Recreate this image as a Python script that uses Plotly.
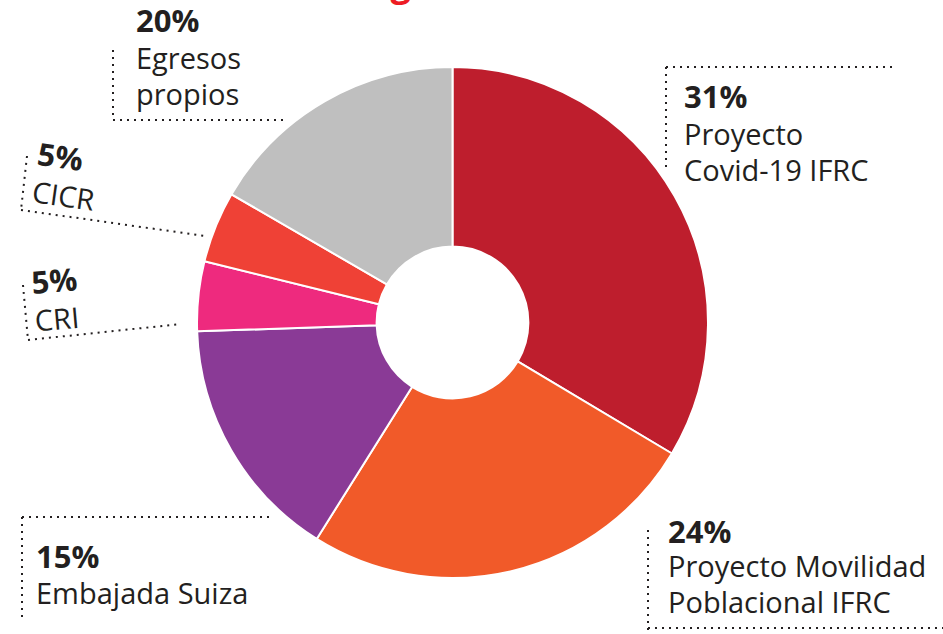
import plotly.graph_objects as go

W, H = 943, 634

# Data
categories = ["Proyecto Covid-19 IFRC", "Proyecto Movilidad Poblacional IFRC",
              "Embajada Suiza", "CRI", "CICR", "Egresos propios"]
values = [33.5, 25.3, 15.5, 4.4, 4.5, 16.6]
pct_labels = ["31%", "24%", "15%", "5%", "5%", "20%"]
name_lines = [["Proyecto", "Covid-19 IFRC"], ["Proyecto Movilidad", "Poblacional IFRC"],
              ["Embajada Suiza"], ["CRI"], ["CICR"], ["Egresos", "propios"]]
colors = ["#BE1E2D", "#F15A29", "#8A3A96", "#EE2A7E", "#EF4136", "#BFBFBF"]


def px(x):
    return x / W


def py(y):
    return 1 - y / H


cx, cy, r = 452.5, 322.5, 255.5

fig = go.Figure(go.Pie(
    labels=categories, values=values, sort=False, direction="clockwise", rotation=0,
    hole=0.297, textinfo="none", hoverinfo="label+percent",
    marker=dict(colors=colors, line=dict(color="white", width=2)),
    domain=dict(x=[px(cx - r), px(cx + r)], y=[py(cy + r), py(cy - r)]),
    showlegend=False,
))

FONT = "Open Sans"
TXT = "#231F20"
S_NAME, S_PCT = 29, 31

# straight labels: (left x, list of baselines)
straight = {
    0: (683, [108, 145, 181]),
    1: (667, [543, 577, 613]),
    2: (35, [568, 604]),
    5: (135, [32, 69, 105]),
}
# rotated labels: (center x, center y, angle)
rotated = {
    3: (56, 298, -5),
    4: (66, 175, 8),
}

annotations = []
for i, (p, names) in enumerate(zip(pct_labels, name_lines)):
    if i in straight:
        x, bases = straight[i]
        lines = [(f"<b>{p}</b>", S_PCT)] + [(n, S_NAME) for n in names]
        for (t, s), b in zip(lines, bases):
            annotations.append(dict(
                text=t, x=px(x), y=py(b - 0.388 * s), xref="paper", yref="paper",
                xanchor="left", yanchor="middle", align="left", showarrow=False,
                font=dict(family=FONT, size=s, color=TXT), borderpad=0,
            ))
    else:
        x, y, ang = rotated[i]
        annotations.append(dict(
            text=f"<b><span style='font-size:{S_PCT}px'>{p}</span></b><br>" + "<br>".join(names),
            x=px(x), y=py(y), xref="paper", yref="paper",
            xanchor="center", yanchor="middle", align="left", showarrow=False, textangle=ang,
            font=dict(family=FONT, size=S_NAME, color=TXT),
        ))

# partially visible title at top edge
annotations.append(dict(
    text="<b>Fuentes de ingresos</b>", x=px(328), y=py(9), xref="paper", yref="paper",
    xanchor="center", yanchor="bottom", showarrow=False,
    font=dict(family=FONT, size=36, color="#ED1C24"),
))

# dotted leader frames
dot = dict(color="#231F20", width=2, dash="2px,5px")
segments = [
    ((666, 67), (895, 67)), ((666, 67), (666, 170)),
    ((648, 530), (648, 630)), ((648, 628), (943, 628)),
    ((22, 517), (270, 517)), ((22, 517), (22, 622)),
    ((23, 285), (28, 340)), ((28, 340), (181, 324)),
    ((27, 156), (21, 210)), ((21, 210), (205, 236)),
    ((113, 50), (113, 120)), ((113, 120), (285, 120)),
]
shapes = [dict(type="line", xref="paper", yref="paper", x0=px(a[0]), y0=py(a[1]),
               x1=px(b[0]), y1=py(b[1]), line=dot) for a, b in segments]

fig.update_layout(
    width=W, height=H, margin=dict(l=0, r=0, t=0, b=0),
    paper_bgcolor="white", plot_bgcolor="white",
    annotations=annotations, shapes=shapes,
)

fig.write_html("out.html", config={"displayModeBar": False},
               post_script="document.body.style.margin='0';")
